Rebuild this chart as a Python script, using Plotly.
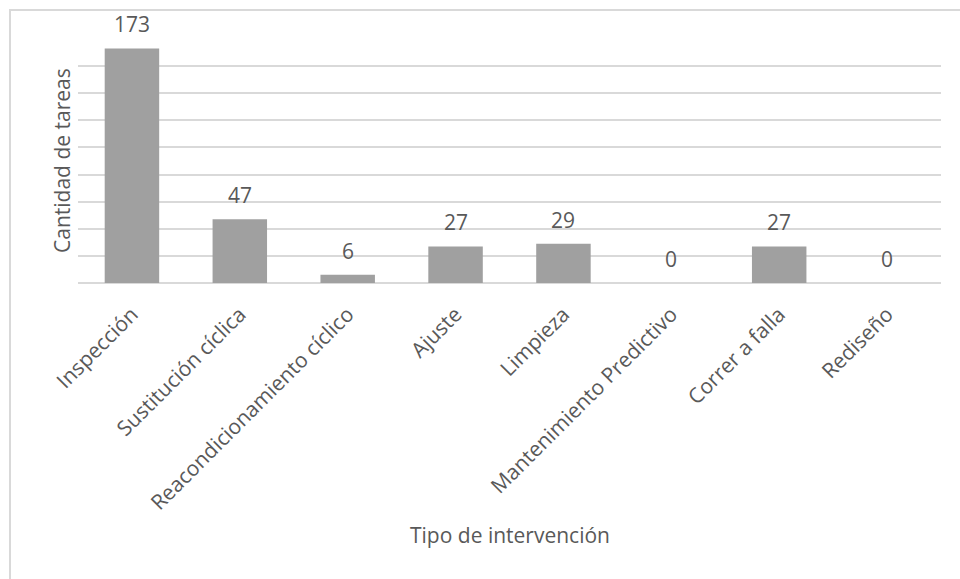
import plotly.graph_objects as go

categories = ["Inspección", "Sustitución cíclica", "Reacondicionamiento cíclico", "Ajuste",
              "Limpieza", "Mantenimiento Predictivo", "Correr a falla", "Rediseño"]
values = [173, 47, 6, 27, 29, 0, 27, 0]
y_ticks = list(range(0, 181, 20))

FONT = "Open Sans"
TXT = "#595959"
PLOT_W = 960 - 78 - 19
PLOT_H = 579 - 39 - 296

fig = go.Figure()
fig.add_trace(go.Bar(
    x=categories, y=values,
    marker=dict(color="#a0a0a0", line=dict(width=0)),
    width=0.505,
    hoverinfo="x+y",
))

for c, v in zip(categories, values):
    fig.add_annotation(x=c, y=v, text=str(v), showarrow=False, yshift=24,
                       yanchor="middle", font=dict(family=FONT, size=21, color=TXT))

# axis titles
fig.add_annotation(xref="paper", yref="paper", x=0.5, y=-252 / PLOT_H,
                   text="Tipo de intervención", showarrow=False,
                   xanchor="center", yanchor="middle",
                   font=dict(family=FONT, size=21, color=TXT))
fig.add_annotation(xref="paper", yref="paper", x=-16 / PLOT_W, y=0.5,
                   text="Cantidad de tareas", showarrow=False, textangle=-90,
                   xanchor="center", yanchor="middle",
                   font=dict(family=FONT, size=21, color=TXT))

fig.update_layout(
    width=960, height=579,
    margin=dict(l=78, r=19, t=39, b=296),
    paper_bgcolor="white", plot_bgcolor="white",
    showlegend=False,
    font=dict(family=FONT, size=21, color=TXT),
)
fig.update_xaxes(
    tickangle=-45, tickfont=dict(family=FONT, size=21, color=TXT),
    showgrid=False, showline=False, ticks="", ticklabelstandoff=14,
)
fig.update_yaxes(
    range=[0, 180], tickvals=y_ticks, showticklabels=False,
    showgrid=True, gridcolor="#d9d9d9", gridwidth=1.5,
    zeroline=True, zerolinecolor="#d9d9d9", zerolinewidth=2,
    showline=False, ticks="",
)
# outer chart border (partly off-canvas as in the source)
fig.add_shape(type="rect", xref="paper", yref="paper",
              x0=-68 / PLOT_W, x1=1.2, y0=-1.5, y1=1 + 29 / PLOT_H,
              line=dict(color="#d9d9d9", width=2), layer="below")
fig.write_html("out.html")
